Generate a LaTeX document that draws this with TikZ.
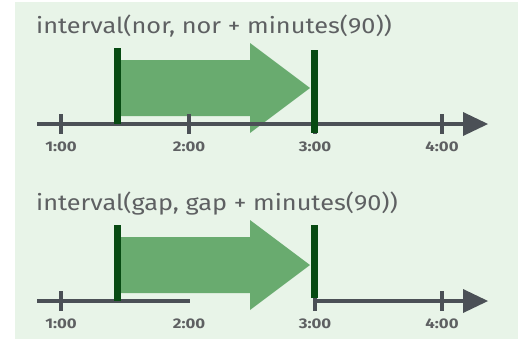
\documentclass[tikz,border=0pt]{standalone}
\usepackage{fontspec}
\setmainfont{Fira Sans}
\definecolor{panelbg}{HTML}{E8F4E8}
\definecolor{spanfill}{HTML}{69AB6F}
\definecolor{edgebar}{HTML}{074A12}
\definecolor{axisgray}{HTML}{4B5056}
\definecolor{textgray}{HTML}{5E6062}
\newcommand{\titletext}[1]{\scalebox{1.15}[1]{#1}}
\newcommand{\ticktext}[1]{\scalebox{1.2}[1]{#1}}
\tikzset{
  axisline/.style={axisgray, line width=4pt},
  tickmark/.style={axisgray, line width=3.5pt},
  axishead/.style={fill=axisgray, draw=none},
  spanarrow/.style={fill=spanfill, draw=none},
  edgebarfill/.style={fill=edgebar, draw=none},
  title/.style={anchor=base west, inner sep=0pt, text=textgray, font=\fontsize{22}{25}\selectfont},
  ticklabel/.style={anchor=center, inner sep=0pt, text=textgray, font=\fontsize{14}{16}\selectfont\bfseries}
}
\begin{document}
\begin{tikzpicture}[x=1pt, y=-1pt]
\useasboundingbox (0,0) rectangle (518,346);
\fill[white] (0,0) rectangle (518,346);
\fill[panelbg] (15,2) rectangle (518,339);

% ---- upper timeline: one continuous interval
\begin{scope}
  \node[title] (t1) at (36,33) {\titletext{interval(nor, nor + minutes(90))}};
  \fill[spanarrow] (118,60) -- (250,60) -- (250,43) -- (310,88) -- (250,133) -- (250,116) -- (118,116) -- cycle;
  \coordinate (a1s) at (37,124);
  \coordinate (a1e) at (466,124);
  \draw[axisline] (a1s) -- (a1e);
  \fill[axishead] (463,112) -- (488,124) -- (463,136) -- cycle;
  \foreach \x/\lab in {61/1:00, 189/2:00, 315/3:00, 442/4:00}{
    \draw[tickmark] (\x,114) -- (\x,134);
    \node[ticklabel] at (\x,147) {\ticktext{\lab}};
  }
  \fill[edgebarfill] (114,48) rectangle (121,124);
  \fill[edgebarfill] (311,50) rectangle (318,133);
\end{scope}

% ---- lower timeline: the axis has a gap
\begin{scope}[yshift=-177pt]
  \node[title] (t2) at (36,33) {\titletext{interval(gap, gap + minutes(90))}};
  \fill[spanarrow] (118,60) -- (250,60) -- (250,43) -- (310,88) -- (250,133) -- (250,116) -- (118,116) -- cycle;
  \coordinate (b1s) at (37,124);
  \coordinate (b1e) at (190,124);
  \coordinate (b2s) at (315,124);
  \coordinate (b2e) at (466,124);
  \draw[axisline] (b1s) -- (b1e);
  \draw[axisline] (b2s) -- (b2e);
  \fill[axishead] (463,112) -- (488,124) -- (463,136) -- cycle;
  \foreach \x in {61, 315, 442}{
    \draw[tickmark] (\x,114) -- (\x,134);
  }
  \foreach \x/\lab in {61/1:00, 189/2:00, 315/3:00, 442/4:00}{
    \node[ticklabel] at (\x,147) {\ticktext{\lab}};
  }
  \fill[edgebarfill] (114,48) rectangle (121,124);
  \fill[edgebarfill] (311,48) rectangle (318,121);
\end{scope}
\end{tikzpicture}
\end{document}
